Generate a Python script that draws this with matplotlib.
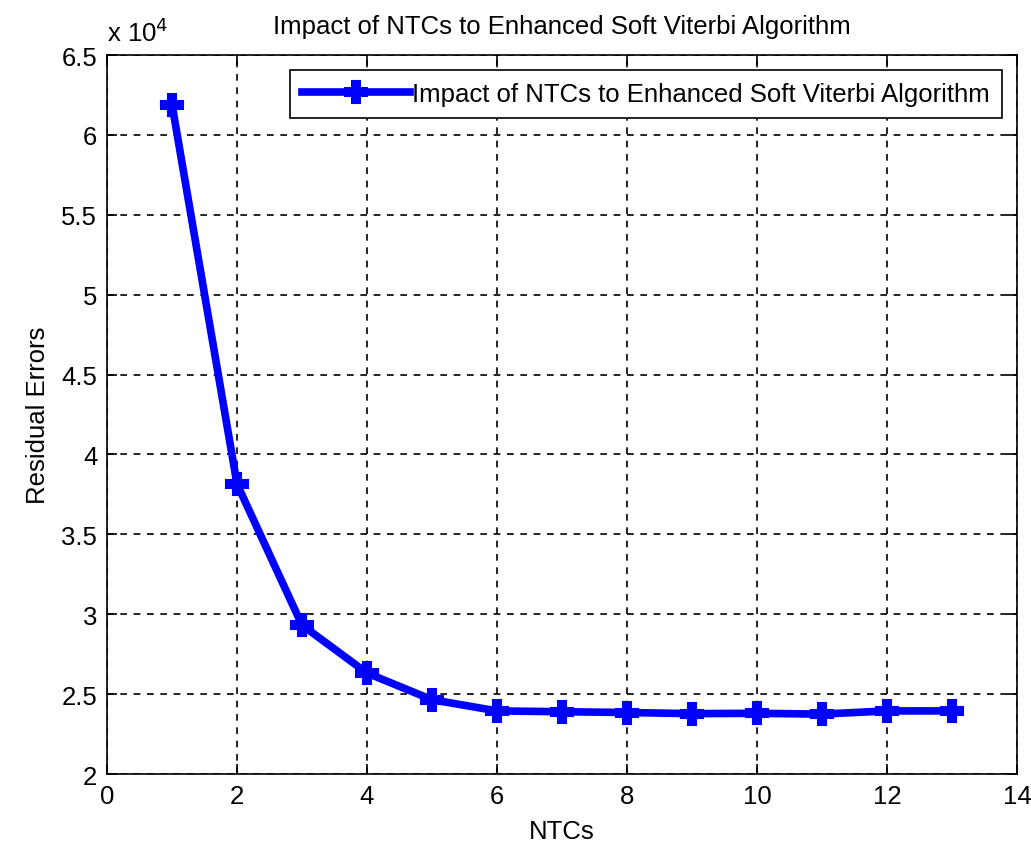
import matplotlib.pyplot as plt
import matplotlib.ticker as mticker
import numpy as np

plt.rcParams['font.family'] = ['Liberation Sans', 'DejaVu Sans']

ntcs = [1, 2, 3, 4, 5, 6, 7, 8, 9, 10, 11, 12, 13]
residual = [61900, 38150, 29320, 26320, 24650, 23950, 23900, 23850, 23780, 23800, 23750, 23950, 23950]

fs = 18.5

fig = plt.figure(figsize=(10.31, 8.45), dpi=100)
ax = fig.add_axes([0.1038, 0.0828, 0.8826, 0.8509])

ax.plot(ntcs, residual, color='blue', linewidth=5.5, marker='P', markersize=16,
        markeredgewidth=1.5, label='Impact of NTCs to Enhanced Soft Viterbi Algorithm')

ax.set_xlim(0, 14)
ax.set_ylim(20000, 65000)
ax.set_xticks(np.arange(0, 15, 2))
ax.set_yticks(np.arange(20000, 65001, 5000))
ax.yaxis.set_major_formatter(mticker.FuncFormatter(lambda v, p: '%g' % (v / 1e4)))
ax.tick_params(direction='in', top=True, right=True, labelsize=fs, length=7, width=1.2, pad=7)
ax.grid(True, linestyle=(0, (4, 4)), color='black', linewidth=1.2)
for s in ax.spines.values():
    s.set_linewidth(1.2)

ax.text(0.0, 1.012, r'x 10$^{4}$', transform=ax.transAxes, fontsize=fs, ha='left', va='bottom')
ax.set_title('Impact of NTCs to Enhanced Soft Viterbi Algorithm', fontsize=fs, pad=16)
ax.set_xlabel('NTCs', fontsize=fs, labelpad=8)
ax.set_ylabel('Residual Errors', fontsize=fs, labelpad=8)

leg = ax.legend(loc='upper right', fontsize=fs, fancybox=False, edgecolor='black',
                framealpha=1, handlelength=4.2, borderaxespad=0.6, handletextpad=0.1,
                borderpad=0.45)
leg.get_frame().set_linewidth(1.2)

fig.savefig('out.png', dpi=100)
